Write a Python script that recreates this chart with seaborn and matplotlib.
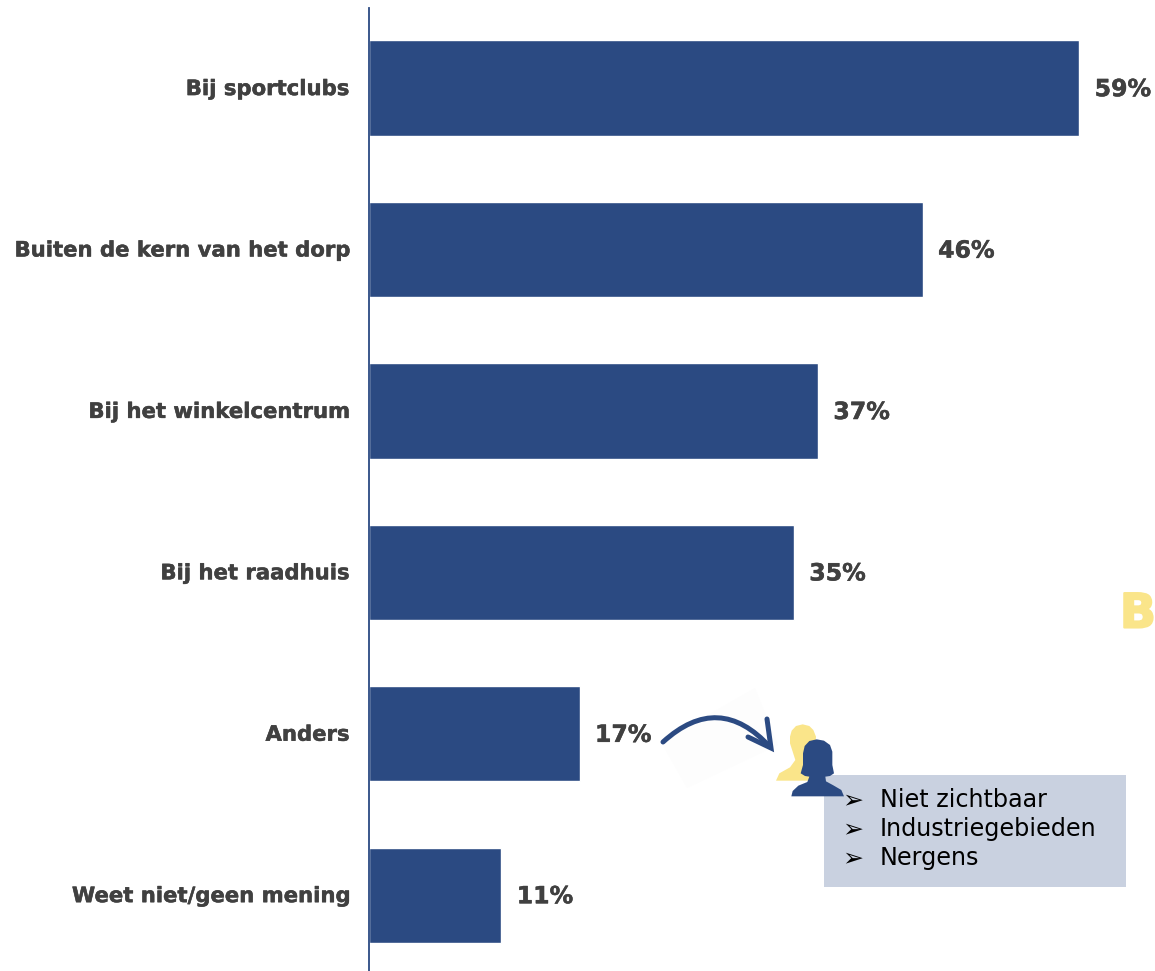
import numpy as np
import pandas as pd
import matplotlib
matplotlib.use("Agg")
import matplotlib.pyplot as plt
import seaborn as sns
import matplotlib.patheffects as pe
from matplotlib.patches import Polygon, Rectangle, FancyArrowPatch
from matplotlib.transforms import ScaledTranslation

# values, printed labels kept apart
categories = ["Bij sportclubs", "Buiten de kern van het dorp", "Bij het winkelcentrum",
              "Bij het raadhuis", "Anders", "Weet niet/geen mening"]
values = [59.0, 46.0, 37.3, 35.3, 17.5, 11.0]
labels = ["59%", "46%", "37%", "35%", "17%", "11%"]
other_answers = ["Niet zichtbaar", "Industriegebieden", "Nergens"]

NAVY = "#2B4A82"
YELLOW = "#FAE58A"
GREY = "#404040"
W, H = 1155, 971

sns.set_theme(style="white")
plt.rcParams["font.family"] = ["DejaVu Sans"]

df = pd.DataFrame({"cat": categories, "val": values})
heavy = [pe.withStroke(linewidth=0.35, foreground=GREY)]

fig = plt.figure(figsize=(W / 100, H / 100), dpi=100, facecolor="white")
ax = fig.add_axes([369 / W, 0, 1 - 369 / W, 1 - 8 / H])
sns.barplot(data=df, x="val", y="cat", color=NAVY, saturation=1, width=0.59, ax=ax)
ax.set_xlim(0, (W - 369) / 12.04)
ax.set_ylim(5.47, -0.496)
ax.set_xlabel("")
ax.set_ylabel("")
ax.xaxis.set_visible(False)
ax.tick_params(axis="y", length=0, pad=14.2)
for t in ax.get_yticklabels():
    t.set_fontsize(15.25)
    t.set_fontweight("bold")
    t.set_color(GREY)
    t.set_path_effects(heavy)
    t.set_transform(t.get_transform() + ScaledTranslation(0, 1 / 100, fig.dpi_scale_trans))
sns.despine(ax=ax, top=True, right=True, bottom=True)
ax.spines["left"].set_color(NAVY)
ax.spines["left"].set_linewidth(1.3)

for i, (v, lab) in enumerate(zip(values, labels)):
    ax.annotate(lab, (v, i), xytext=(11, -0.8), textcoords="offset points",
                va="center", ha="left", fontsize=17, fontweight="bold", color=GREY,
                path_effects=heavy)

# overlay in pixel coordinates for the callout pieces
ov = fig.add_axes([0, 0, 1, 1], facecolor="none")
ov.set_xlim(0, W)
ov.set_ylim(H, 0)
ov.axis("off")

ov.text(1138, 615, "B", fontsize=34, fontweight="bold", color=YELLOW, ha="center", va="center",
        path_effects=[pe.withStroke(linewidth=1.5, foreground=YELLOW)])

ov.add_patch(Polygon([(661, 742), (755, 688), (778, 745), (687, 788)], color="#FDFDFD", lw=0))
ov.add_patch(FancyArrowPatch((663, 742), (770, 747), connectionstyle="arc3,rad=-0.5",
                             arrowstyle="-", color=NAVY, lw=3.6, shrinkA=0, shrinkB=0))
ov.plot([767, 771, 748], [719, 748, 737], color=NAVY, lw=3.6, solid_joinstyle="miter")
ov.set_xlim(0, W)
ov.set_ylim(H, 0)


def icon(outline, colour):
    # outline measured on a 3x crop whose corner is at (770, 710)
    pts = [(770 + x / 3, 710 + y / 3) for x, y in outline]
    ov.add_patch(Polygon(pts, color=colour, lw=0))


icon([(98, 43), (78, 48), (65, 62), (60, 80), (60, 100), (68, 125), (76, 150), (60, 172), (28, 190),
      (18, 212), (180, 212), (135, 120), (138, 80), (130, 60), (118, 48)], YELLOW)
ov.add_patch(Rectangle((824, 775), 302, 112, color="#C9D1E0", lw=0))
icon([(140, 88), (118, 93), (104, 108), (99, 130), (99, 165), (92, 190), (105, 198), (118, 200),
      (112, 216), (85, 227), (68, 243), (64, 259), (222, 259), (214, 240), (190, 226), (168, 214),
      (166, 200), (180, 198), (192, 190), (187, 165), (187, 125), (180, 105), (162, 92)], NAVY)

for y, item in zip([800, 829, 858], other_answers):
    ov.text(853, y, "➢", fontsize=18, color="black", ha="center", va="center")
    ov.text(880, y, item, fontsize=17.2, color="black", ha="left", va="center")

fig.savefig("out.png", dpi=100)
